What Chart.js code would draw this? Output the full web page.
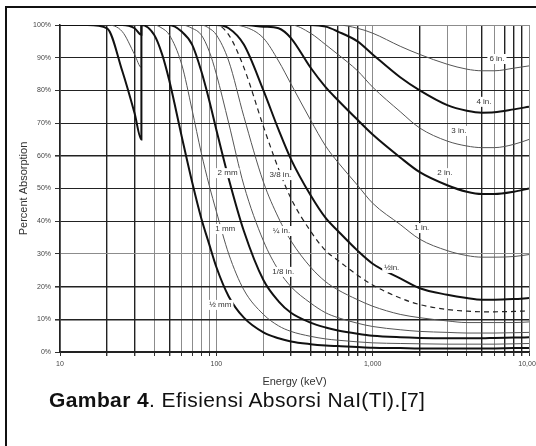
<!DOCTYPE html>
<html>
<head>
<meta charset="utf-8">
<script src="https://cdn.jsdelivr.net/npm/chart.js@4.4.1/dist/chart.umd.min.js"></script>
<style>
  html, body { margin: 0; padding: 0; background: #fff; overflow: hidden; }
  body { width: 536px; height: 446px; position: relative; }
  #frame { position: absolute; left: 5px; top: 6px; width: 600px; height: 500px; border-left: 2px solid #111; border-top: 2px solid #111; }
  #chart { position: absolute; left: 0; top: 0; }
  #caption { position: absolute; left: 49px; top: 388px; font: 21px 'Liberation Sans', Arial, sans-serif; color: #111; white-space: nowrap; letter-spacing: 0.4px; }
</style>
</head>
<body>
<div id="frame"></div>
<canvas id="chart" width="560" height="400"></canvas>
<div id="caption"><b>Gambar 4</b>. Efisiensi Absorsi NaI(Tl).[7]</div>
<script>
// energy grid (keV), the K-edge of iodine appears twice
var energyKeV = [10, 15, 20, 25, 30, 33.17, 33.17, 40, 45, 50, 60, 70, 80, 90, 100, 120, 150, 200, 250, 300, 400, 500, 600, 800, 1000, 1500, 2000, 3000, 4000, 5000, 6000, 8000, 10000];

// percent absorption, one array per crystal thickness
var halfMm = [100, 100, 99, 86, 73, 65, 100, 97, 91, 83, 66, 52, 41, 33, 26, 17, 10.5, 6, 4.2, 3.2, 2.4, 2, 1.8, 1.5, 1.3, 1.2, 1.1, 1.1, 1.1, 1.1, 1.1, 1.2, 1.2];
var oneMm = [100, 100, 100, 98, 91, 87, 100, 100, 99, 97, 88, 74, 61, 51, 43, 30, 19, 11.5, 8, 6.3, 4.8, 4, 3.6, 3.1, 2.8, 2.6, 2.5, 2.4, 2.4, 2.4, 2.4, 2.5, 2.6];
var twoMm = [100, 100, 100, 100, 99, 97, 100, 100, 100, 100, 98, 94, 86, 77, 68, 53, 37, 22, 15.5, 12, 9, 7.5, 6.6, 5.6, 5, 4.5, 4.3, 4.2, 4.2, 4.2, 4.3, 4.4, 4.5];
var eighthIn = [100, 100, 100, 100, 100, 100, 100, 100, 100, 100, 100, 99, 97, 92, 85, 70, 51, 34, 25, 20, 15, 12, 10.5, 8.8, 7.8, 6.8, 6.3, 6, 5.8, 5.8, 5.8, 5.9, 6];
var quarterIn = [100, 100, 100, 100, 100, 100, 100, 100, 100, 100, 100, 100, 100, 99, 97, 89, 72, 52, 41, 34, 26, 21.5, 19, 16, 14, 11.5, 10.5, 9.5, 9, 9, 9, 9, 9.2];
var threeEighthIn = [100, 100, 100, 100, 100, 100, 100, 100, 100, 100, 100, 100, 100, 100, 100, 97, 87, 69, 56, 47, 37, 31, 28, 23.5, 20.5, 16.5, 14.5, 13, 12.5, 12.3, 12.3, 12.4, 12.6];
var halfIn = [100, 100, 100, 100, 100, 100, 100, 100, 100, 100, 100, 100, 100, 100, 100, 99, 94, 80, 68, 59, 48, 41, 37, 31, 27, 22.5, 19.5, 17.5, 16.5, 16, 16, 16.2, 16.5];
var oneIn = [100, 100, 100, 100, 100, 100, 100, 100, 100, 100, 100, 100, 100, 100, 100, 100, 99.5, 96, 89, 82, 71, 63, 58, 51, 45.5, 39, 34.5, 31, 29.5, 29, 29, 29.2, 29.8];
var twoIn = [100, 100, 100, 100, 100, 100, 100, 100, 100, 100, 100, 100, 100, 100, 100, 100, 100, 99.5, 99, 96, 87, 81, 77, 71, 66.5, 59.5, 55, 51, 49, 48.3, 48.3, 49, 50];
var threeIn = [100, 100, 100, 100, 100, 100, 100, 100, 100, 100, 100, 100, 100, 100, 100, 100, 100, 100, 100, 100, 97.5, 94, 91, 86, 81, 73.5, 68.5, 64.5, 63, 62.5, 62.5, 63.5, 65];
var fourIn = [100, 100, 100, 100, 100, 100, 100, 100, 100, 100, 100, 100, 100, 100, 100, 100, 100, 100, 100, 100, 100, 99.5, 98, 95, 91, 84, 80, 75.5, 73.8, 73.2, 73.3, 74.2, 75];
var sixIn = [100, 100, 100, 100, 100, 100, 100, 100, 100, 100, 100, 100, 100, 100, 100, 100, 100, 100, 100, 100, 100, 100, 100, 99, 97.5, 93.5, 91, 88, 86.5, 86, 86, 86.8, 87.5];

// axis ticks
var energyTicks = [10, 20, 30, 40, 50, 60, 70, 80, 90, 100, 200, 300, 400, 500, 600, 700, 800, 900, 1000, 2000, 3000, 4000, 5000, 6000, 7000, 8000, 9000, 10000];
var energyLabels = [10, 100, 1000, 10000];
var percentTicks = [0, 10, 20, 30, 40, 50, 60, 70, 80, 90, 100];

// curve captions and where they sit (energy, percent)
var labelText = ['½ mm', '1 mm', '2 mm', '1/8 in.', '¼ in.', '3/8 in.', '½in.', '1 in.', '2 in.', '3 in.', '4 in.', '6 in.'];
var labelEnergy = [106, 114, 118, 268, 261, 257, 1325, 2061, 2894, 3556, 5150, 6237];
var labelPct = [14.4, 37.6, 54.7, 24.5, 37, 54.1, 25.7, 37.9, 54.7, 67.6, 76.5, 89.6];

var darkX = [20, 30, 50, 300, 400, 600, 700, 800, 2000, 5000, 7000, 8000, 9000];
var darkY = [0, 10, 20, 40, 50, 60, 70, 80, 90];
var heavyY = [10, 20, 60];

var FONT = "'Liberation Sans', Arial, sans-serif";

function curve(values, style) {
  var ds = {
    data: energyKeV.map((e, i) => ({x: e, y: values[i]})),
    fill: false,
    pointRadius: 0,
    cubicInterpolationMode: 'monotone',
  };
  if (style == 'thick') {
    ds.borderColor = '#111';
    ds.borderWidth = 2;
  } else if (style == 'dash') {
    ds.borderColor = '#222';
    ds.borderWidth = 1.2;
    ds.borderDash = [5, 4];
  } else {
    ds.borderColor = '#555';
    ds.borderWidth = 1;
  }
  return ds;
}

const curveLabels = {
  id: 'curveLabels',
  afterDatasetsDraw(chart) {
    const ctx = chart.ctx;
    const x = chart.scales.x;
    const y = chart.scales.y;
    ctx.save();
    ctx.font = '8px ' + FONT;
    ctx.textAlign = 'center';
    ctx.textBaseline = 'middle';
    labelText.forEach((t, i) => {
      const px = x.getPixelForValue(labelEnergy[i]);
      const py = y.getPixelForValue(labelPct[i]);
      const w = ctx.measureText(t).width;
      ctx.fillStyle = '#fff';
      ctx.fillRect(px - w / 2 - 2, py - 5, w + 4, 10);
      ctx.fillStyle = '#333';
      ctx.fillText(t, px, py);
    });
    ctx.restore();
  }
};

new Chart(document.getElementById('chart'), {
  type: 'line',
  data: {
    datasets: [
      curve(halfMm, 'thick'),
      curve(oneMm, 'thin'),
      curve(twoMm, 'thick'),
      curve(eighthIn, 'thin'),
      curve(quarterIn, 'thin'),
      curve(threeEighthIn, 'dash'),
      curve(halfIn, 'thick'),
      curve(oneIn, 'thin'),
      curve(twoIn, 'thick'),
      curve(threeIn, 'thin'),
      curve(fourIn, 'thick'),
      curve(sixIn, 'thin'),
    ],
  },
  options: {
    responsive: false,
    animation: false,
    layout: {padding: {left: 0, top: 25, right: 31, bottom: 8}},
    plugins: {legend: {display: false}, tooltip: {enabled: false}},
    scales: {
      x: {
        type: 'logarithmic',
        min: 10,
        max: 10000,
        afterBuildTicks: (s) => { s.ticks = energyTicks.map((v) => ({value: v})); },
        afterFit: (s) => { s.height = 40; },
        grid: {
          color: (c) => darkX.includes(c.tick && c.tick.value) ? '#222' : '#8c8c8c',
          lineWidth: (c) => darkX.includes(c.tick && c.tick.value) ? 1.4 : 1,
          tickLength: 4,
          tickColor: '#333',
        },
        border: {color: '#222', width: 1.5},
        ticks: {
          autoSkip: false,
          maxRotation: 0,
          minRotation: 0,
          padding: 4,
          color: '#444',
          font: {family: FONT, size: 7},
          callback: (v) => energyLabels.includes(v) ? v.toLocaleString('en-US') : '',
        },
        title: {display: true, text: 'Energy (keV)', color: '#333', font: {family: FONT, size: 11}, padding: {top: 0, bottom: 3}},
      },
      y: {
        min: 0,
        max: 100,
        afterBuildTicks: (s) => { s.ticks = percentTicks.map((v) => ({value: v})); },
        afterFit: (s) => { s.width = 60; },
        grid: {
          color: (c) => darkY.includes(c.tick && c.tick.value) ? '#222' : '#8c8c8c',
          lineWidth: (c) => heavyY.includes(c.tick && c.tick.value) ? 1.6 : 1,
          tickLength: 5,
          tickColor: '#333',
        },
        border: {color: '#222', width: 1.5},
        ticks: {
          padding: 4,
          color: '#444',
          font: {family: FONT, size: 7},
          callback: (v) => v + '%',
        },
        title: {display: true, text: 'Percent Absorption', color: '#333', font: {family: FONT, size: 11}, padding: {top: 17, bottom: 0}},
      },
    },
  },
  plugins: [curveLabels],
});
</script>
</body>
</html>
